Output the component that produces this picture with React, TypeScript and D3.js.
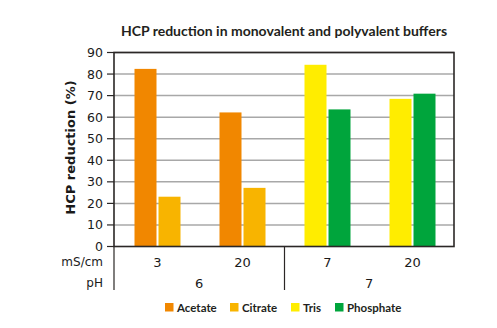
import React from "react";
import * as d3 from "d3";

const conductivity = ["3", "20", "7", "20"];
const phGroups = ["6", "7"];
const seriesNames = ["Acetate", "Citrate", "Tris", "Phosphate"];
const seriesColors = ["#F18700", "#F8B400", "#FFED00", "#00A53C"];
const acetate = [82.4, 62.2, null, null];
const citrate = [23.1, 27.2, null, null];
const tris = [null, null, 84.3, 68.5];
const phosphate = [null, null, 63.6, 70.9];
const yTicks = [0, 10, 20, 30, 40, 50, 60, 70, 80, 90];

const W = 497, H = 328;
const left = 114, right = 454, top = 52.5, bottom = 246.5;
const labelFont = "'DejaVu Sans', Verdana, sans-serif";
const boldFont = "Lato, 'DejaVu Sans', sans-serif";

export default function App() {
  const series = [acetate, citrate, tris, phosphate];
  const x = d3.scaleBand<number>().domain([0, 1, 2, 3]).range([left + 1, right + 1]).padding(0);
  const y = d3.scaleLinear().domain([0, 90]).range([bottom, top]);
  const barW = 22, gap = 2;

  const bars: any[] = [];
  conductivity.forEach((_, ci) => {
    const present = series.map((s, si) => ({ si, v: s[ci] })).filter((d) => d.v != null);
    const center = (x(ci) as number) + x.bandwidth() / 2;
    const total = present.length * barW + (present.length - 1) * gap;
    present.forEach((d, k) => {
      const bx = center - total / 2 + k * (barW + gap);
      bars.push(
        <rect key={`${ci}-${d.si}`} x={bx} y={y(d.v as number)} width={barW}
          height={bottom - y(d.v as number)} fill={seriesColors[d.si]} />
      );
    });
  });

  const sepX = (x(2) as number) - 0.5;
  const groupCenters = [(left + sepX) / 2, (sepX + right) / 2];

  const legendX = [165, 230, 291, 335];

  return (
    <svg width={W} height={H} style={{ position: "absolute", left: 0, top: 0 }}>
      <rect width={W} height={H} fill="#fff" />
      <text x={(left + right) / 2} y={36} textAnchor="middle" fontFamily={boldFont}
        fontWeight={700} fontSize={14} fill="#231f20">
        HCP reduction in monovalent and polyvalent buffers
      </text>
      {yTicks.slice(1).map((t) => (
        <line key={t} x1={left} x2={right} y1={y(t)} y2={y(t)} stroke="#a8a8a8" strokeWidth={1.5} />
      ))}
      {bars}
      <rect x={left} y={top} width={right - left} height={bottom - top} fill="none" stroke="#2b2726" strokeWidth={1.6} />
      {yTicks.map((t) => (
        <g key={t}>
          <line x1={left - 7} x2={left} y1={y(t)} y2={y(t)} stroke="#2b2726" strokeWidth={1.2} />
          <text x={left - 11} y={y(t)} dy="0.36em" textAnchor="end" fontFamily={labelFont}
            fontSize={12.5} fill="#1a1a1a">{t}</text>
        </g>
      ))}
      <text transform={`translate(75,${(top + bottom) / 2 - 2}) rotate(-90)`} textAnchor="middle"
        fontFamily={labelFont} fontWeight={700} fontSize={13} fill="#1a1a1a">HCP reduction (%)</text>
      <line x1={left} x2={left} y1={bottom} y2={290} stroke="#2b2726" strokeWidth={1.2} />
      <line x1={sepX} x2={sepX} y1={bottom} y2={290} stroke="#2b2726" strokeWidth={1.2} />
      <text x={103} y={262} dy="0.36em" textAnchor="end" fontFamily={labelFont} fontSize={12} fill="#1a1a1a">mS/cm</text>
      <text x={103} y={283} dy="0.36em" textAnchor="end" fontFamily={labelFont} fontSize={12} fill="#1a1a1a">pH</text>
      {conductivity.map((c, ci) => (
        <text key={ci} x={(x(ci) as number) + x.bandwidth() / 2} y={262} dy="0.36em" textAnchor="middle"
          fontFamily={labelFont} fontSize={13} fill="#1a1a1a">{c}</text>
      ))}
      {phGroups.map((p, gi) => (
        <text key={gi} x={groupCenters[gi]} y={283} dy="0.36em" textAnchor="middle"
          fontFamily={labelFont} fontSize={13} fill="#1a1a1a">{p}</text>
      ))}
      {seriesNames.map((n, i) => (
        <g key={n}>
          <rect x={legendX[i]} y={303} width={8.5} height={8.5} fill={seriesColors[i]} />
          <text x={legendX[i] + 12} y={307.5} dy="0.35em" fontFamily={boldFont} fontWeight={700}
            fontSize={11.5} fill="#231f20">{n}</text>
        </g>
      ))}
    </svg>
  );
}
